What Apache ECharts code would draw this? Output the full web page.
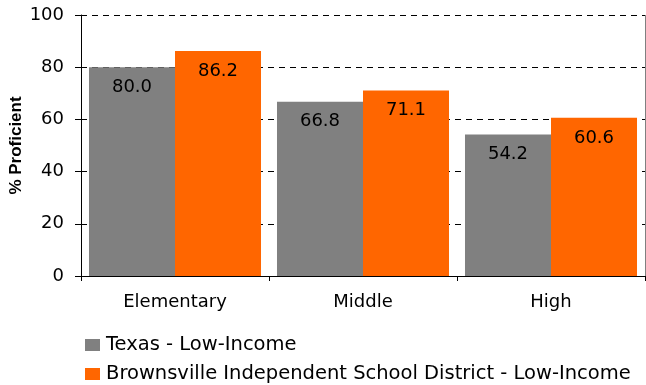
<!DOCTYPE html>
<html>
<head>
<meta charset="utf-8">
<script src="https://cdn.jsdelivr.net/npm/echarts@6/dist/echarts.min.js"></script>
<style>
  html, body { margin: 0; padding: 0; background: #fff; }
  #chart { width: 646px; height: 385px; }
</style>
</head>
<body>
<div id="chart"></div>
<script>
// School levels along the x axis
const categories = ['Elementary', 'Middle', 'High'];
// Percent proficient, low-income students
const texasValues = [80.0, 66.8, 54.2];
const brownsvilleValues = [86.2, 71.1, 60.6];
const seriesNames = ['Texas - Low-Income', 'Brownsville Independent School District - Low-Income'];
const yTicks = [0, 20, 40, 60, 80, 100];

const font = '"DejaVu Sans", "Liberation Sans", Arial, sans-serif';
const chart = echarts.init(document.getElementById('chart'), null, { renderer: 'canvas' });

const barLabel = {
  show: true,
  position: 'insideTop',
  distance: 11,
  color: '#000',
  fontFamily: font,
  fontSize: 18,
  formatter: p => p.value.toFixed(1)
};

function legendFor(name, top) {
  return {
    orient: 'vertical',
    left: 85,
    top: top,
    padding: 0,
    itemWidth: 15,
    itemHeight: 12,
    icon: 'rect',
    textStyle: { fontFamily: font, fontSize: 19.5, color: '#000', padding: [0, 0, 0, 1] },
    data: [name]
  };
}

chart.setOption({
  animation: false,
  backgroundColor: '#fff',
  textStyle: { fontFamily: font },
  grid: { left: 81, right: 1, top: 15, bottom: 109, containLabel: false, outerBoundsMode: 'none' },
  legend: [legendFor(seriesNames[0], 335), legendFor(seriesNames[1], 364)],
  xAxis: {
    type: 'category',
    data: categories,
    axisLine: { lineStyle: { color: '#000', width: 1 } },
    axisTick: { show: true, length: 5, lineStyle: { color: '#000' } },
    axisLabel: { color: '#000', fontSize: 18, fontFamily: font, margin: 17 }
  },
  yAxis: {
    type: 'value',
    min: yTicks[0],
    max: yTicks[yTicks.length - 1],
    interval: 20,
    name: '% Proficient',
    nameLocation: 'middle',
    nameGap: 56,
    nameRotate: 90,
    nameMoveOverlap: false,
    nameTextStyle: { color: '#000', fontSize: 17, fontWeight: 'bold', fontFamily: '"Liberation Sans", Arial, sans-serif' },
    axisLine: { show: true, lineStyle: { color: '#000', width: 1 } },
    axisTick: { show: true, length: 6, lineStyle: { color: '#000' } },
    axisLabel: { color: '#000', fontSize: 18, fontFamily: font, margin: 17 },
    splitLine: { show: true, lineStyle: { color: '#000', type: [6, 5], width: 1 } }
  },
  series: [
    {
      name: seriesNames[0],
      type: 'bar',
      data: texasValues,
      itemStyle: { color: '#808080' },
      barGap: '0%',
      barCategoryGap: '8.5%',
      label: barLabel
    },
    {
      name: seriesNames[1],
      type: 'bar',
      data: brownsvilleValues,
      itemStyle: { color: '#FF6600' },
      label: barLabel
    }
  ],
  graphic: [{
    type: 'line',
    shape: { x1: 645.5, y1: 15, x2: 645.5, y2: 276 },
    style: { stroke: '#808080', lineWidth: 1 }
  }]
});
</script>
</body>
</html>
